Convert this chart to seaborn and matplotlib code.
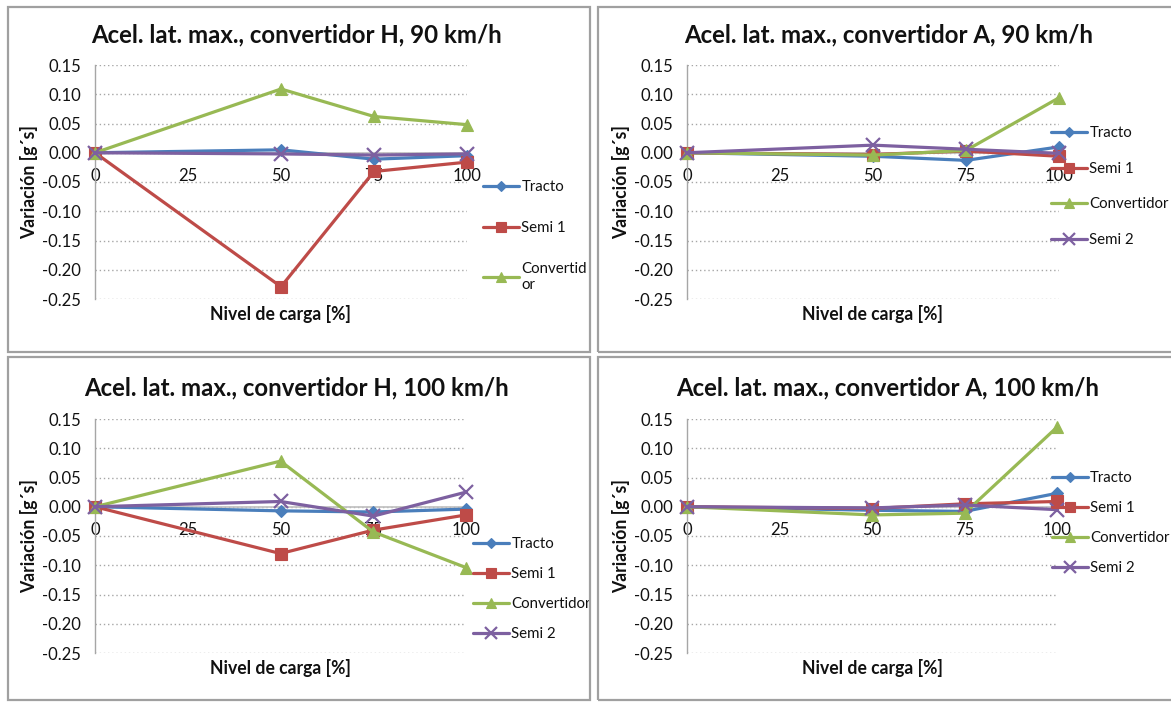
import matplotlib
matplotlib.use("Agg")
import matplotlib.pyplot as plt
import seaborn as sns
import pandas as pd
from matplotlib.lines import Line2D
from matplotlib.patches import Rectangle

# ---- data -----------------------------------------------------------------
carga = [0, 50, 75, 100]
series = ["Tracto", "Semi 1", "Convertidor", "Semi 2"]

h90_tracto = [0.0, 0.005, -0.011, -0.005]
h90_semi1 = [0.0, -0.229, -0.032, -0.016]
h90_conv = [0.0, 0.109, 0.062, 0.048]
h90_semi2 = [0.0, -0.002, -0.004, -0.002]

a90_tracto = [0.0, -0.006, -0.013, 0.010]
a90_semi1 = [0.0, -0.003, 0.003, -0.006]
a90_conv = [0.0, -0.004, 0.004, 0.094]
a90_semi2 = [0.0, 0.013, 0.006, -0.001]

h100_tracto = [0.0, -0.007, -0.009, -0.004]
h100_semi1 = [0.0, -0.080, -0.040, -0.014]
h100_conv = [0.0, 0.078, -0.043, -0.104]
h100_semi2 = [0.0, 0.009, -0.016, 0.025]

a100_tracto = [0.0, -0.006, -0.008, 0.023]
a100_semi1 = [0.0, -0.003, 0.005, 0.009]
a100_conv = [0.0, -0.014, -0.011, 0.136]
a100_semi2 = [0.0, -0.002, 0.003, -0.005]

titles = [
    "Acel. lat. max., convertidor H, 90 km/h",
    "Acel. lat. max., convertidor A, 90 km/h",
    "Acel. lat. max., convertidor H, 100 km/h",
    "Acel. lat. max., convertidor A, 100 km/h",
]
x_ticks = [0, 25, 50, 75, 100]
y_ticks = [0.15, 0.10, 0.05, 0.00, -0.05, -0.10, -0.15, -0.20, -0.25]
x_label = "Nivel de carga [%]"
y_label = "Variación [g´s]"

# ---- style ----------------------------------------------------------------
sns.set_style("white")
plt.rcParams["font.family"] = ["Lato", "DejaVu Sans"]
plt.rcParams["axes.unicode_minus"] = False

colors = {"Tracto": "#4A7EBB", "Semi 1": "#BE4B48",
          "Convertidor": "#98B954", "Semi 2": "#7D60A0"}
markers = {"Tracto": "D", "Semi 1": "s", "Convertidor": "^", "Semi 2": "x"}
msizes = {"Tracto": 6.5, "Semi 1": 8.5, "Convertidor": 9, "Semi 2": 10}
GRID = "#A6A6A6"
TEXT = "#111111"

W, H = 1171, 705
fig = plt.figure(figsize=(W / 100, H / 100), dpi=100)


def fx(px):
    return px / W


def fy(py):
    return 1 - py / H


def add_axes(left, right, top, bottom):
    return fig.add_axes([fx(left), fy(bottom), (right - left) / W, (bottom - top) / H])


panels = [
    dict(vals=[h90_tracto, h90_semi1, h90_conv, h90_semi2],
         box=(95, 467, 65, 299), frame=(8, 7, 590, 352), title_y=35,
         leg=dict(x=483, y=180, names=["Tracto", "Semi 1", "Convertid\nor"], ls=1.8)),
    dict(vals=[a90_tracto, a90_semi1, a90_conv, a90_semi2],
         box=(687, 1059, 65, 299), frame=(598, 7, 1175, 352), title_y=35,
         leg=dict(x=1051, y=126, names=series, ls=1.45)),
    dict(vals=[h100_tracto, h100_semi1, h100_conv, h100_semi2],
         box=(95, 466, 419, 653), frame=(8, 357, 590, 700), title_y=388,
         leg=dict(x=473, y=537, names=series, ls=1.07)),
    dict(vals=[a100_tracto, a100_semi1, a100_conv, a100_semi2],
         box=(687, 1057, 419, 653), frame=(598, 357, 1175, 700), title_y=388,
         leg=dict(x=1052, y=471, names=series, ls=1.07)),
]

for p, title in zip(panels, titles):
    left, right, top, bottom = p["box"]
    ax = add_axes(left, right, top, bottom)

    # panel frame
    fl, ft, fr, fb = p["frame"]
    fig.add_artist(Rectangle((fx(fl), fy(fb)), (fr - fl) / W, (fb - ft) / H,
                             transform=fig.transFigure, fill=False,
                             edgecolor="#A0A0A0", lw=1.6))

    df = pd.DataFrame({
        "carga": carga * len(series),
        "valor": [v for vals in p["vals"] for v in vals],
        "serie": [s for s in series for _ in carga],
    })
    for name in series:
        sub = df[df["serie"] == name]
        sns.lineplot(data=sub, x="carga", y="valor", ax=ax, color=colors[name],
                     marker=markers[name], markersize=msizes[name],
                     markeredgewidth=1.6 if name == "Semi 2" else 0.8,
                     markeredgecolor=colors[name], linewidth=2.3,
                     legend=False, clip_on=False, zorder=3)

    ax.set_xlim(0, 100)
    ax.set_ylim(-0.25, 0.15)
    ax.set_xticks(x_ticks)
    ax.set_xticklabels([str(t) for t in x_ticks])
    ax.set_yticks(y_ticks)
    ax.set_yticklabels([f"{t:.2f}" for t in y_ticks])
    ax.yaxis.grid(True, linestyle=(0, (1, 2)), color=GRID, lw=1.0)
    ax.xaxis.grid(False)
    for s in ["top", "right"]:
        ax.spines[s].set_visible(False)
    ax.spines["left"].set_color(GRID)
    ax.spines["left"].set_linewidth(1.0)
    ax.spines["bottom"].set_position(("data", 0))
    ax.spines["bottom"].set_color("#BFBFBF")
    ax.spines["bottom"].set_linewidth(1.2)
    ax.tick_params(axis="x", length=0, pad=11, labelsize=12, labelcolor=TEXT)
    ax.tick_params(axis="y", length=0, pad=10, labelsize=12, labelcolor=TEXT)
    ax.set_xlabel("")
    ax.set_ylabel("")

    # titles and axis labels
    cx = (left + right) / 2
    fig.text(fx(cx + 16), fy(p["title_y"]), title, ha="center", va="center",
             fontsize=17.3, fontweight="bold", color=TEXT)
    fig.text(fx(cx), fy(bottom + 15), x_label, ha="center", va="center",
             fontsize=12.7, fontweight="bold", color=TEXT)
    fig.text(fx(left - 66), fy((top + bottom) / 2), y_label, ha="center",
             va="center", rotation=90, fontsize=12.7, fontweight="bold",
             color=TEXT)

    # legend
    lg = p["leg"]
    handles = [Line2D([], [], color=colors[n], marker=markers[n],
                      markersize=msizes[n] * 0.85, lw=2.3,
                      markeredgewidth=1.6 if n == "Semi 2" else 0.8)
               for n in series[:len(lg["names"])]]
    ax.legend(handles, lg["names"], loc="upper left",
              bbox_to_anchor=(fx(lg["x"]), fy(lg["y"])),
              bbox_transform=fig.transFigure, frameon=False, fontsize=10.8,
              handlelength=2.4, handletextpad=0.15, labelspacing=lg["ls"],
              borderpad=0, borderaxespad=0, labelcolor=TEXT)

fig.savefig("out.png", dpi=100, facecolor="white")
